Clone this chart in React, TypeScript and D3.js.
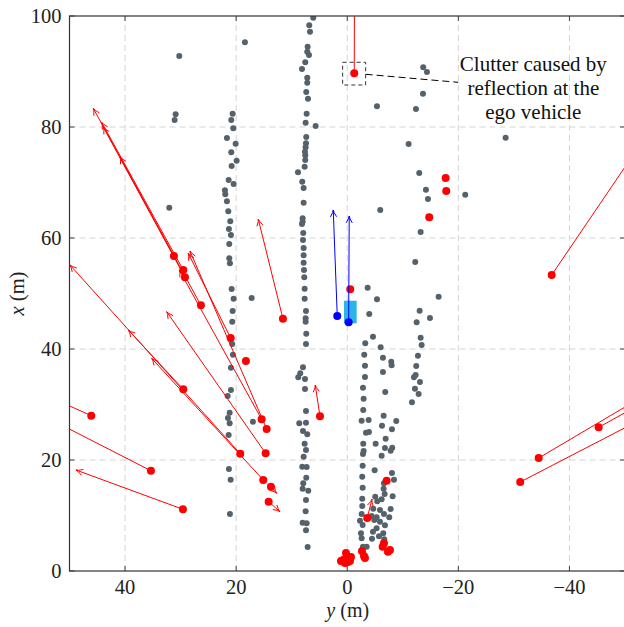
import React from "react";
import * as d3 from "d3";

// ---- Data (y = lateral m, x = longitudinal m) ----
const xTicks = [40, 20, 0, -20, -40];
const yTicks = [0, 20, 40, 60, 80, 100];

// static radar detections [y, x]
const staticPoints: [number, number][] = [
  // column near y = 20
  [20.63, 82.4], [20.88, 81.26], [20.52, 79.77], [21.66, 78.02], [20.09, 76.99], [20.88, 75.44],
  [19.91, 73.93], [20.81, 72.97], [21.35, 70.45], [20.45, 69.73], [22.02, 68.59], [21.96, 67.87],
  [21.66, 66.61], [21.42, 64.81], [21.06, 63.01], [21.3, 61.62], [20.94, 60.54], [21.24, 58.92],
  [21.24, 56.34], [21.12, 55.44], [20.81, 50.81], [20.45, 49.06], [20.63, 46.85], [20.7, 44.92],
  [20.88, 41.93], [20.7, 40.9], [20.58, 38.97], [20.94, 36.63], [20.94, 32.61], [21.53, 31.53],
  [21.17, 28.52], [21.48, 27.57], [21.17, 26.61], [21.35, 24.5], [21.3, 18.38], [20.99, 16.45],
  [21.12, 10.27],
  // isolated left
  [18.42, 95.26], [17.21, 49.19], [16.98, 26.9], [30.24, 92.79], [30.89, 82.29], [31.07, 81.26],
  [32.04, 65.46],
  // column near y = 7
  [6.12, 99.69], [6.84, 98.32], [6.71, 97.17], [7.13, 94.47], [7.2, 93.57], [6.89, 92.97],
  [7.56, 91.66], [8.15, 90.45], [7.2, 88.88], [7.2, 87.98], [7.38, 86.31], [7.07, 85.1],
  [7.31, 82.4], [7.49, 80.77], [5.69, 80.18], [7.38, 78.2], [7.43, 77.06], [7.49, 76.34],
  [7.61, 75.55], [7.56, 74.9], [7.56, 74.05], [7.67, 72.85], [8.87, 71.84], [8.1, 70.14],
  [7.85, 69.01], [7.85, 66.36], [8.03, 63.55], [8.03, 62.94], [8.15, 62.52], [7.92, 60.9],
  [7.97, 59.64], [7.85, 58.2], [7.85, 56.88], [7.85, 55.55], [7.79, 54.23], [7.74, 52.92],
  [7.67, 50.86], [7.67, 49.06], [7.43, 46.85], [7.49, 45.53], [7.49, 44.92], [7.38, 42.76],
  [7.43, 40.9], [7.97, 36.7], [8.46, 35.62], [8.82, 34.9], [7.61, 34.59], [7.61, 32.79],
  [7.43, 28.83], [8.64, 26.61], [7.43, 26.72], [7.97, 25.23], [7.2, 24.63], [7.67, 22.94],
  [7.43, 21.8], [7.85, 20.59], [8.1, 18.79], [7.31, 18.74], [7.38, 16.81], [7.92, 15.8],
  [8.03, 14.83], [7.02, 14.47], [7.43, 12.79], [7.49, 10.76], [8.03, 8.7], [7.31, 8.59],
  [7.43, 7.33], [7.13, 4.32],
  // right side, upper
  [-13.68, 90.76], [-14.35, 89.91], [-13.63, 86.0], [-5.35, 83.73], [-12.37, 83.24], [-11.05, 76.94],
  [-12.96, 71.71], [-14.17, 68.7], [-14.53, 67.03], [-21.24, 67.8], [-5.94, 65.05], [-13.21, 61.08],
  [-12.24, 55.68], [-3.67, 51.05], [-5.35, 48.95], [-16.45, 49.42], [-28.51, 78.07],
  // right side, lower
  [-13.03, 46.9], [-3.96, 46.31], [-14.89, 45.59], [-12.49, 44.81], [-4.63, 42.22], [-13.21, 42.04],
  [-3.24, 41.03], [-13.39, 40.72], [-6.01, 40.31], [-3.06, 38.97], [-12.73, 38.79], [-6.43, 38.43],
  [-7.92, 37.71], [-7.99, 37.06], [-3.19, 36.99], [-12.42, 36.94], [-6.43, 35.86], [-12.31, 35.32],
  [-12.01, 34.9], [-3.19, 34.95], [-13.09, 34.05], [-2.83, 33.03], [-12.19, 32.85], [-6.84, 32.25],
  [-12.85, 31.89], [-2.95, 31.05], [-11.65, 30.4], [-2.88, 29.01], [-6.55, 27.98], [-2.59, 27.08],
  [-3.85, 27.21], [-8.82, 27.03], [-6.25, 26.18], [-8.05, 25.53], [-3.37, 24.92], [-3.91, 25.05],
  [-6.91, 23.84], [-2.88, 22.94], [-5.11, 22.94], [-8.1, 22.22], [-6.79, 22.16], [-2.95, 21.62],
  [-7.81, 21.68], [-2.83, 21.08], [-6.19, 20.77], [-2.77, 18.97], [-4.93, 18.14], [-8.05, 17.66],
  [-2.7, 16.99], [-8.41, 16.45], [-6.61, 15.8], [-2.77, 15.01], [-6.55, 14.83], [-6.73, 13.87],
  [-8.17, 13.46], [-5.04, 13.39], [-2.7, 13.03], [-6.19, 12.92], [-5.4, 12.56], [-2.7, 11.71],
  [-7.81, 11.17], [-4.68, 11.23], [-5.89, 10.99], [-2.59, 10.27], [-6.61, 10.27], [-4.39, 9.91],
  [-5.29, 9.68], [-7.56, 9.68], [-2.29, 9.06], [-4.86, 9.19], [-5.89, 8.88], [-2.77, 8.29],
  [-6.79, 8.23], [-5.29, 7.69], [-4.63, 7.08], [-2.47, 6.79], [-6.48, 6.79], [-5.71, 6.25],
  [-2.59, 5.89], [-4.45, 5.82], [-6.66, 5.71], [-2.83, 4.38], [-3.49, 4.38],
];

// moving detections with velocity arrows [y0, x0, y1, x1]
const movingArrows: [number, number, number, number][] = [
  [31.2, 56.76, 45.72, 83.37],
  [29.52, 54.23, 44.21, 80.85],
  [29.22, 52.92, 43.92, 80.0],
  [26.34, 47.87, 40.92, 74.65],
  [11.58, 45.46, 16.02, 63.42],
  [20.99, 41.98, 28.62, 57.24],
  [29.52, 32.74, 39.42, 43.42],
  [19.26, 21.14, 49.92, 55.14],
  [15.12, 16.4, 35.21, 38.32],
  [15.41, 27.33, 30.24, 54.23],
  [14.51, 25.59, 28.32, 57.66],
  [14.69, 21.21, 32.51, 46.72],
  [13.74, 15.19, 12.71, 14.0],
  [14.15, 12.49, 12.12, 10.68],
  [4.91, 27.87, 5.76, 33.51],
  [46.08, 27.98, 55.0, 32.0],
  [35.34, 18.07, 53.0, 27.1],
  [29.58, 11.12, 48.84, 18.2],
  [-34.46, 20.36, -55.0, 32.5],
  [-45.26, 25.89, -55.0, 31.3],
  [-31.14, 16.04, -55.0, 28.4],
  [-36.8, 53.33, -55.7, 81.2],
  [-3.6, 9.55, -4.45, 12.92],
  [-1.26, 89.68, -1.3, 106.0],
];

// moving detections without drawn velocity [y, x]
const movingPoints: [number, number][] = [
  [-17.71, 70.81], [-17.82, 68.47], [-14.76, 63.73], [-0.54, 50.76], [18.24, 37.84], [-7.09, 16.27],
  [0.77, 1.98], [0.05, 2.7], [-0.49, 1.8], [0.41, 1.44], [-0.67, 2.52], [-0.13, 1.62], [1.13, 1.8],
  [0.23, 3.24], [-2.65, 3.6], [-3.01, 2.7], [-3.19, 2.34], [-6.61, 4.99], [-6.37, 4.38],
  [-7.69, 3.78], [-7.33, 3.48],
];

// tracked objects (blue) [y0, x0, y1, x1]
const trackArrows: [number, number, number, number][] = [
  [1.8, 45.95, 2.52, 65.05],
  [-0.25, 44.81, -0.36, 63.96],
];

// ego vehicle rectangle [yLeft, xTop, yRight, xBottom]
const egoBox = [0.59, 48.7, -1.69, 44.63];

// annotation
const clutterBox = [0.83, 91.66, -3.31, 87.57];
const clutterLine = [-3.31, 89.5, -19.98, 88.05];
const annotationLines = ["Clutter caused by", "reflection at the", "ego vehicle"];
const annotationPos = [-33.5, 91.5, 87.1, 82.7];

const W = 624;
const H = 627;
const FONT = "'Liberation Serif', 'Times New Roman', serif";

export default function App() {
  const x = d3.scaleLinear().domain([50, -50]).range([69.5, 625]);
  const y = d3.scaleLinear().domain([0, 100]).range([571, 16]);
  const [x0, x1] = x.range();
  const [yb, yt] = y.range();

  const fmt = (v: number) => (v < 0 ? "\u2212" + Math.abs(v) : String(v));

  const arrowPath = (a: [number, number, number, number]) => {
    const sx = x(a[0]), sy = y(a[1]), ex = x(a[2]), ey = y(a[3]);
    const ang = Math.atan2(ey - sy, ex - sx);
    const L = 7.5, s = 0.42;
    const h1x = ex - L * Math.cos(ang - s), h1y = ey - L * Math.sin(ang - s);
    const h2x = ex - L * Math.cos(ang + s), h2y = ey - L * Math.sin(ang + s);
    return `M${sx},${sy}L${ex},${ey}M${h1x},${h1y}Q${ex - 2 * Math.cos(ang)},${ey - 2 * Math.sin(ang)} ${ex},${ey}Q${ex - 2 * Math.cos(ang)},${ey - 2 * Math.sin(ang)} ${h2x},${h2y}`;
  };

  return (
    <svg
      width={W}
      height={H}
      style={{ position: "absolute", left: 0, top: 0, background: "#fff" }}
      fontFamily={FONT}
    >
      <defs>
        <clipPath id="plot">
          <rect x={x0} y={yt} width={x1 - x0} height={yb - yt} />
        </clipPath>
      </defs>
      {/* grid */}
      <g stroke="#d4d4d4" strokeWidth={1} strokeDasharray="6,4">
        {xTicks.map((t) => (
          <line key={"gx" + t} x1={x(t)} x2={x(t)} y1={yb} y2={yt} />
        ))}
        {yTicks.filter((t) => t > 0 && t < 100).map((t) => (
          <line key={"gy" + t} x1={x0} x2={x1} y1={y(t)} y2={y(t)} />
        ))}
      </g>
      {/* ticks */}
      <g stroke="#444" strokeWidth={1}>
        {xTicks.map((t) => (
          <g key={"tx" + t}>
            <line x1={x(t)} x2={x(t)} y1={yb} y2={yb - 5} />
            <line x1={x(t)} x2={x(t)} y1={yt} y2={yt + 5} />
          </g>
        ))}
        {yTicks.map((t) => (
          <g key={"ty" + t}>
            <line x1={x0} x2={x0 + 5} y1={y(t)} y2={y(t)} />
            <line x1={x1} x2={x1 - 5} y1={y(t)} y2={y(t)} />
          </g>
        ))}
      </g>
      <g clipPath="url(#plot)">
        {/* static points */}
        <g fill="#56626b">
          {staticPoints.map((p, i) => (
            <circle key={"s" + i} cx={x(p[0])} cy={y(p[1])} r={3} />
          ))}
        </g>
        {/* ego vehicle */}
        <rect
          x={x(egoBox[0])}
          y={y(egoBox[1])}
          width={x(egoBox[2]) - x(egoBox[0])}
          height={y(egoBox[3]) - y(egoBox[1])}
          fill="#2ab4e8"
        />
        {/* red arrows */}
        <g stroke="#ff0000" strokeWidth={1} fill="none">
          {movingArrows.map((a, i) => (
            <path key={"ra" + i} d={arrowPath(a)} />
          ))}
        </g>
        <g fill="#ff0000">
          {movingArrows.map((a, i) => (
            <circle key={"rp" + i} cx={x(a[0])} cy={y(a[1])} r={4} />
          ))}
          {movingPoints.map((p, i) => (
            <circle key={"rm" + i} cx={x(p[0])} cy={y(p[1])} r={4} />
          ))}
        </g>
        {/* blue tracks */}
        <g stroke="#0000ff" strokeWidth={1} fill="none">
          {trackArrows.map((a, i) => (
            <path key={"ba" + i} d={arrowPath(a)} />
          ))}
        </g>
        <g fill="#0000ff">
          {trackArrows.map((a, i) => (
            <circle key={"bp" + i} cx={x(a[0])} cy={y(a[1])} r={4} />
          ))}
        </g>
        {/* annotation */}
        <rect
          x={x(clutterBox[0])}
          y={y(clutterBox[1])}
          width={x(clutterBox[2]) - x(clutterBox[0])}
          height={y(clutterBox[3]) - y(clutterBox[1])}
          fill="none"
          stroke="#333"
          strokeWidth={1}
          strokeDasharray="4,3"
        />
        <line
          x1={x(clutterLine[0])}
          y1={y(clutterLine[1])}
          x2={x(clutterLine[2])}
          y2={y(clutterLine[3])}
          stroke="#000"
          strokeWidth={1}
          strokeDasharray="7,4"
        />
      </g>
      <g fontSize={21} textAnchor="middle" fill="#111">
        {annotationLines.map((t, i) => (
          <text key={"an" + i} x={x(annotationPos[0])} y={y(annotationPos[i + 1])} dy="0.35em">
            {t}
          </text>
        ))}
      </g>
      {/* frame */}
      <rect x={x0} y={yt} width={x1 - x0} height={yb - yt} fill="none" stroke="#333" strokeWidth={1.2} />
      {/* tick labels */}
      <g fontSize={20.5} fill="#222">
        {xTicks.map((t) => (
          <text key={"lx" + t} x={x(t)} y={yb + 23} textAnchor="middle">
            {fmt(t)}
          </text>
        ))}
        {yTicks.map((t) => (
          <text key={"ly" + t} x={x0 - 8} y={y(t)} dy="0.35em" textAnchor="end">
            {t}
          </text>
        ))}
      </g>
      {/* axis labels */}
      <text x={(x0 + 624) / 2 + 1} y={617} fontSize={20} textAnchor="middle" fill="#222">
        <tspan fontStyle="italic">y</tspan> (m)
      </text>
      <text
        transform={`translate(24, ${(yb + yt) / 2}) rotate(-90)`}
        fontSize={20.5}
        textAnchor="middle"
        fill="#222"
      >
        <tspan fontStyle="italic">x</tspan> (m)
      </text>
    </svg>
  );
}
